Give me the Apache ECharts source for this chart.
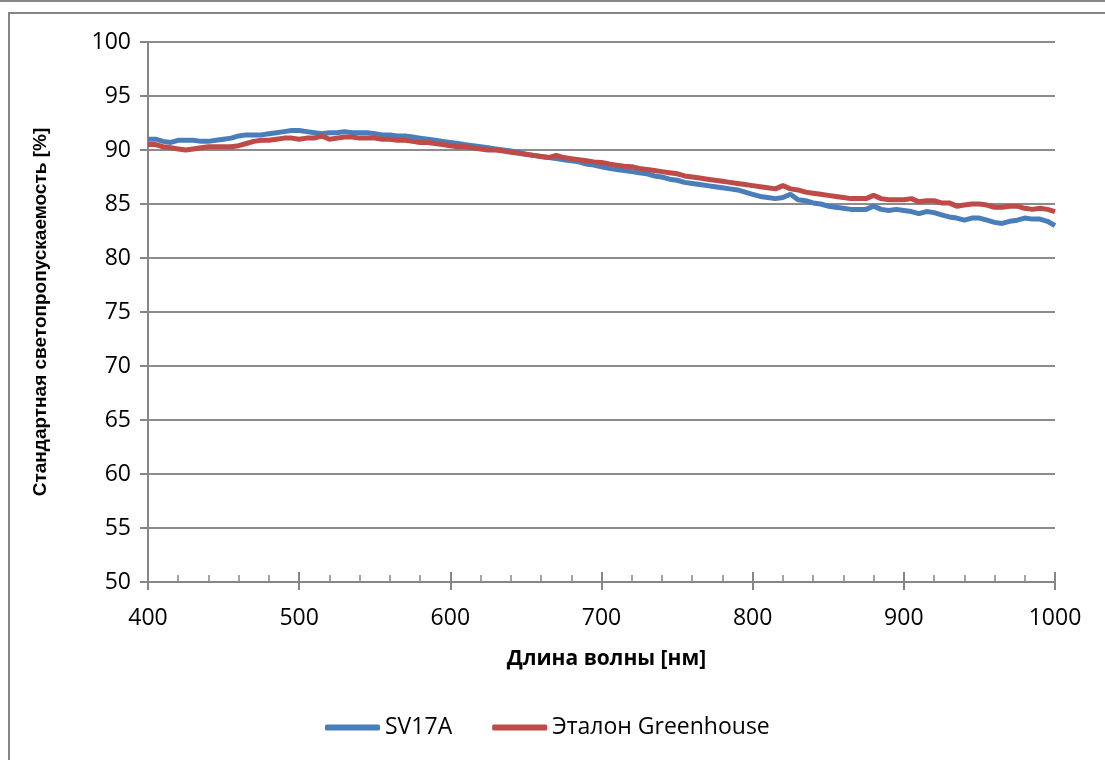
<!DOCTYPE html>
<html>
<head>
<meta charset="utf-8">
<script src="https://cdn.jsdelivr.net/npm/echarts@6/dist/echarts.min.js"></script>
<style>
html,body{margin:0;padding:0;background:#fff;}
#chart{width:1105px;height:760px;}
</style>
</head>
<body>
<div id="chart"></div>
<script>
var wavelengths = [];
for (var w = 400; w <= 1000; w += 5) wavelengths.push(w);

var seriesNames = ['SV17A', 'Эталон Greenhouse'];
var xTitle = 'Длина волны [нм]';
var yTitle = 'Стандартная светопропускаемость [%]';

var sv17a = [
  91.0, 91.0, 90.8, 90.7, 90.9, 90.9, 90.9, 90.8, 90.8, 90.9,
  91.0, 91.1, 91.3, 91.4, 91.4, 91.4, 91.5, 91.6, 91.7, 91.8,
  91.8, 91.7, 91.6, 91.5, 91.6, 91.6, 91.7, 91.6, 91.6, 91.6,
  91.5, 91.4, 91.4, 91.3, 91.3, 91.2, 91.1, 91.0, 90.9, 90.8,
  90.7, 90.6, 90.5, 90.4, 90.3, 90.2, 90.1, 90.0, 89.9, 89.8,
  89.6, 89.5, 89.4, 89.3, 89.2, 89.1, 89.0, 88.9, 88.7, 88.6,
  88.45, 88.3, 88.2, 88.1, 88.0, 87.9, 87.8, 87.6, 87.5, 87.3,
  87.2, 87.0, 86.9, 86.8, 86.7, 86.6, 86.5, 86.4, 86.3, 86.1,
  85.9, 85.7, 85.6, 85.5, 85.6, 85.9, 85.4, 85.3, 85.1, 85.0,
  84.8, 84.7, 84.6, 84.5, 84.5, 84.5, 84.8, 84.5, 84.4, 84.5,
  84.4, 84.3, 84.1, 84.3, 84.2, 84.0, 83.8, 83.7, 83.5, 83.7,
  83.7, 83.5, 83.3, 83.2, 83.4, 83.5, 83.7, 83.6, 83.6, 83.4,
  83.0
];

var greenhouse = [
  90.5, 90.5, 90.3, 90.2, 90.1, 90.0, 90.1, 90.2, 90.3, 90.3,
  90.3, 90.3, 90.4, 90.6, 90.8, 90.9, 90.9, 91.0, 91.1, 91.1,
  91.0, 91.1, 91.1, 91.3, 91.0, 91.1, 91.2, 91.2, 91.1, 91.1,
  91.1, 91.0, 91.0, 90.9, 90.9, 90.8, 90.7, 90.7, 90.6, 90.5,
  90.4, 90.3, 90.3, 90.2, 90.1, 90.0, 90.0, 89.9, 89.8, 89.7,
  89.6, 89.5, 89.4, 89.3, 89.5, 89.3, 89.2, 89.1, 89.0, 88.9,
  88.85, 88.7, 88.6, 88.5, 88.45, 88.3, 88.2, 88.1, 88.0, 87.9,
  87.8, 87.6, 87.5, 87.4, 87.3, 87.2, 87.1, 87.0, 86.9, 86.8,
  86.7, 86.6, 86.5, 86.4, 86.7, 86.4, 86.3, 86.1, 86.0, 85.9,
  85.8, 85.7, 85.6, 85.5, 85.5, 85.5, 85.8, 85.5, 85.4, 85.4,
  85.4, 85.5, 85.2, 85.3, 85.3, 85.1, 85.1, 84.8, 84.9, 85.0,
  85.0, 84.9, 84.7, 84.7, 84.8, 84.8, 84.6, 84.5, 84.6, 84.5,
  84.3
];

function pairs(xs, ys) {
  return xs.map(function (x, i) { return [x, ys[i]]; });
}

var gray = '#868686';
var tickFont = '"Open Sans", "Noto Sans", sans-serif';

var chart = echarts.init(document.getElementById('chart'), null, {renderer: 'canvas'});
chart.setOption({
  animation: false,
  backgroundColor: '#ffffff',
  color: ['#4a7ebb', '#be4b48'],
  graphic: [
    {type: 'line', shape: {x1: 0, y1: 1, x2: 1105, y2: 1}, style: {stroke: gray, lineWidth: 2}},
    {type: 'rect', shape: {x: 9, y: 13, width: 1200, height: 800}, style: {fill: 'none', stroke: gray, lineWidth: 2}}
  ],
  grid: {left: 148, right: 50, top: 42, bottom: 178, containLabel: false},
  legend: {
    left: 320, top: 711,
    icon: 'roundRect',
    itemWidth: 55, itemHeight: 6, itemGap: 40,
    textStyle: {fontFamily: tickFont, fontSize: 23, color: '#000'},
    data: seriesNames
  },
  xAxis: [
    {
      type: 'value', min: 400, max: 1000, interval: 100,
      name: xTitle, nameLocation: 'middle', nameGap: 67,
      nameTextStyle: {fontFamily: tickFont, fontWeight: 'bold', fontSize: 21, color: '#000', padding: [0, 0, 0, 10]},
      axisLine: {show: true, lineStyle: {color: gray, width: 2}},
      axisTick: {show: true, inside: false, length: 8, lineStyle: {color: gray, width: 2}},
      axisLabel: {fontFamily: tickFont, fontSize: 23, color: '#000', margin: 25, formatter: function (v) { return String(v); }},
      splitLine: {show: false}
    },
    {
      type: 'value', min: 400, max: 1000, interval: 100, position: 'bottom',
      axisLine: {show: false},
      axisTick: {show: true, inside: true, length: 10, lineStyle: {color: gray, width: 2}},
      minorTick: {show: true, splitNumber: 5, length: 7, lineStyle: {color: gray, width: 1.5}},
      axisLabel: {show: false},
      splitLine: {show: false}
    }
  ],
  yAxis: {
    type: 'value', min: 50, max: 100, interval: 5,
    name: yTitle, nameLocation: 'middle', nameGap: 98, nameRotate: 90,
    nameTextStyle: {fontFamily: '"Liberation Sans", Arial, sans-serif', fontWeight: 'bold', fontSize: 19, color: '#000'},
    axisLine: {show: true, lineStyle: {color: gray, width: 2}},
    axisTick: {show: true, inside: false, length: 8, lineStyle: {color: gray, width: 2}},
    axisLabel: {fontFamily: tickFont, fontSize: 23, color: '#000', margin: 17},
    splitLine: {show: true, lineStyle: {color: '#8c8c8c', width: 2}}
  },
  series: [
    {
      name: seriesNames[0], type: 'line', xAxisIndex: 0, data: pairs(wavelengths, sv17a),
      showSymbol: false, symbol: 'none', smooth: false,
      lineStyle: {width: 5, color: '#4a7ebb'}
    },
    {
      name: seriesNames[1], type: 'line', xAxisIndex: 0, data: pairs(wavelengths, greenhouse),
      showSymbol: false, symbol: 'none', smooth: false,
      lineStyle: {width: 5, color: '#be4b48'}
    }
  ]
});
</script>
</body>
</html>
